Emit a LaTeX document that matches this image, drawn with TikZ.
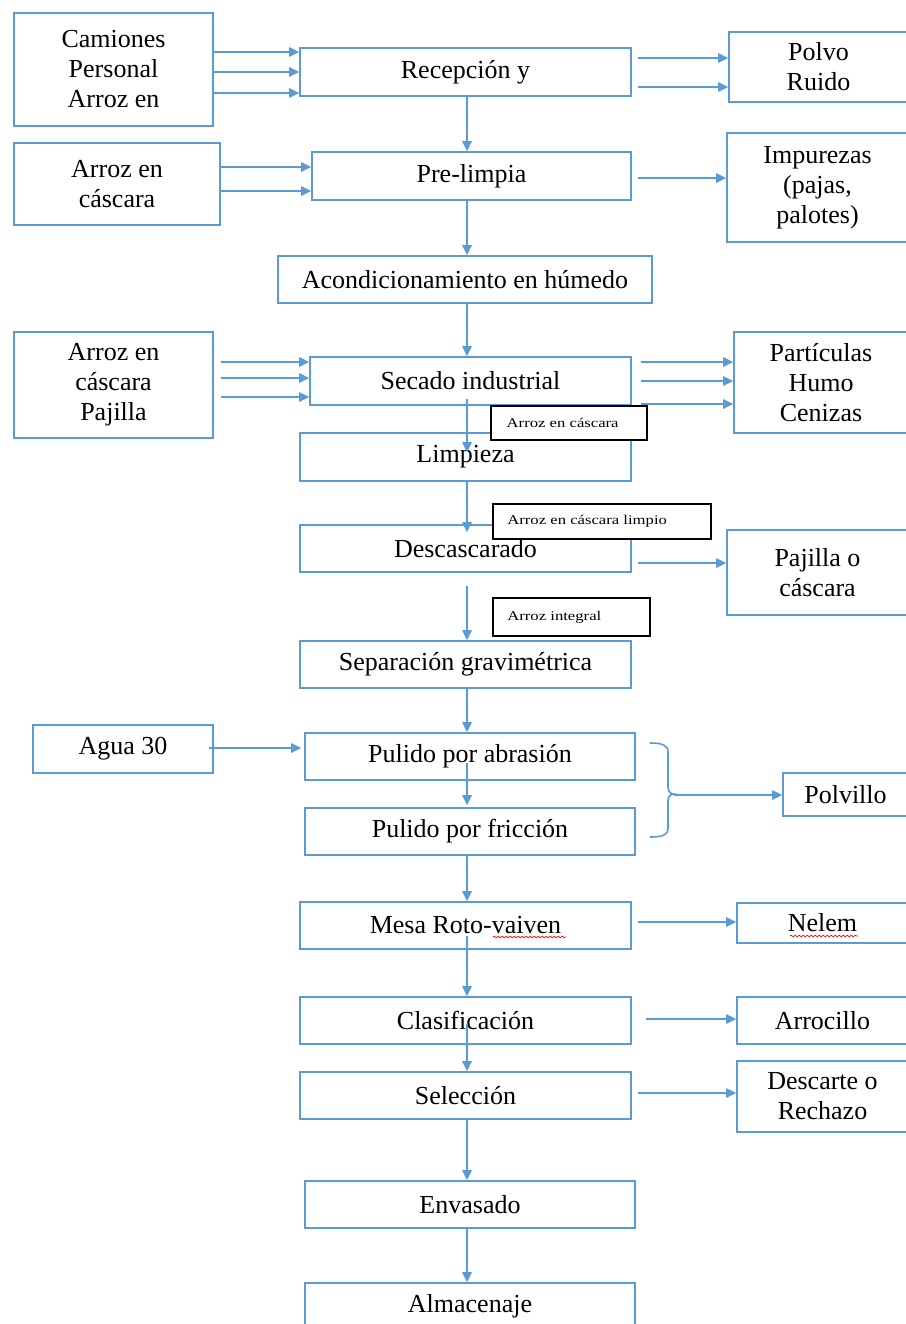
\documentclass[tikz,border=0pt]{standalone}
\usepackage{fontspec}
\setmainfont{Liberation Serif}
\usepackage{graphicx}
\usetikzlibrary{arrows.meta,calc,decorations.pathmorphing}
\definecolor{flowblue}{RGB}{91,155,213}
% \flowbox{name}{x1}{y1}{x2}{y2}{text}: a box spanning two corners
\newcommand\flowbox[6]{%
  \node[box, minimum width={(#4-#2)*0.75pt}, minimum height={(#5-#3)*0.75pt}]
    (#1) at ({(#2+#4)/2},{(#3+#5)/2}) {#6};}
\begin{document}
\begin{tikzpicture}[x=0.75pt,y=-0.75pt,
  box/.style={draw=flowblue, line width=1.2pt, inner sep=0pt, align=center,
    font=\fontsize{19.5}{22.5}\selectfont},
  tag/.style={draw=black, fill=white, line width=0.9pt, inner sep=0pt},
  tagtext/.style={anchor=west, inner sep=0pt, font=\fontsize{10}{12}\selectfont},
  flow/.style={draw=flowblue, line width=1.2pt, -{Triangle[length=7.5pt,width=7pt]}},
  spell/.style={draw=red, line width=0.5pt, decorate,
    decoration={snake, amplitude=0.6pt, segment length=3pt}}
]
\useasboundingbox (0,0) rectangle (906,1324);
\clip (0,0) rectangle (906,1324);

% main process column
\flowbox{recep}{300}{48}{631}{96}{Recepción y}
\flowbox{prel}{312}{152}{631}{200}{Pre-limpia}
\flowbox{acond}{278}{256}{652}{303}{Acondicionamiento en húmedo}
\flowbox{secado}{310}{357}{631}{405}{Secado industrial}
\flowbox{limp}{300}{433}{631}{481}{Limpieza}
\flowbox{desc}{300}{525}{631}{572}{Descascarado}
\flowbox{sep}{300}{641}{631}{688}{Separación gravimétrica}
\flowbox{pula}{305}{733}{635}{780}{Pulido por abrasión}
\flowbox{pulf}{305}{808}{635}{855}{Pulido por fricción}
\flowbox{mesa}{300}{902}{631}{949}{Mesa Roto-vaiven}
\flowbox{clas}{300}{997}{631}{1044}{Clasificación}
\flowbox{sel}{300}{1072}{631}{1119}{Selección}
\flowbox{env}{305}{1181}{635}{1228}{Envasado}
\flowbox{alm}{305}{1283}{635}{1330}{Almacenaje}

% inputs
\flowbox{cam}{14}{13}{213}{126}{Camiones\\Personal\\Arroz en}
\flowbox{arroz1}{14}{143}{220}{225}{Arroz en\\cáscara}
\flowbox{arroz2}{14}{332}{213}{438}{Arroz en\\cáscara\\Pajilla}
\flowbox{agua}{33}{725}{213}{773}{Agua 30}

% outputs
\flowbox{polvo}{729}{32}{908}{102}{Polvo\\Ruido}
\flowbox{imp}{727}{133}{908}{242}{Impurezas\\(pajas,\\palotes)}
\flowbox{part}{734}{332}{908}{433}{Partículas\\Humo\\Cenizas}
\flowbox{pajc}{727}{530}{908}{615}{Pajilla o\\cáscara}
\flowbox{polv}{783}{773}{908}{816}{Polvillo}
\flowbox{nelem}{737}{903}{908}{943}{Nelem}
\flowbox{arroc}{737}{997}{908}{1044}{Arrocillo}
\flowbox{desca}{737}{1061}{908}{1132}{Descarte o\\Rechazo}

% spell-check marks
\draw[spell] (493,937) -- (566,937);
\draw[spell] (790,936) -- (858,936);

% vertical flow
\coordinate (spine) at (467,0);
\draw[flow] (recep.south -| spine) -- (prel.north -| spine);
\draw[flow] (prel.south -| spine) -- (acond.north -| spine);
\draw[flow] (acond.south -| spine) -- (secado.north -| spine);
\draw[flow] ($(secado.south -| spine)+(0,-7)$) -- ($(limp.north -| spine)+(0,20)$);
\draw[flow] (limp.south -| spine) -- ($(desc.north -| spine)+(0,8)$);
\draw[flow] ($(desc.south -| spine)+(0,13)$) -- (sep.north -| spine);
\draw[flow] (sep.south -| spine) -- (pula.north -| spine);
\draw[flow] ($(pula.south -| spine)+(0,-18)$) -- ($(pulf.north -| spine)+(0,-2)$);
\draw[flow] (pulf.south -| spine) -- (mesa.north -| spine);
\draw[flow] ($(mesa.south -| spine)+(0,-14)$) -- (clas.north -| spine);
\draw[flow] ($(clas.south -| spine)+(0,-21)$) -- (sel.north -| spine);
\draw[flow] (sel.south -| spine) -- (env.north -| spine);
\draw[flow] (env.south -| spine) -- (alm.north -| spine);

% inputs into the process
\foreach \y in {52,72,93}
  \draw[flow] (cam.east |- 0,\y) -- (recep.west |- 0,\y);
\foreach \y in {167,191}
  \draw[flow] (arroz1.east |- 0,\y) -- (prel.west |- 0,\y);
\foreach \y in {362,378,397}
  \draw[flow] ($(arroz2.east |- 0,\y)+(7,0)$) -- (secado.west |- 0,\y);
\draw[flow] ($(agua.east |- 0,748)+(-5,0)$) -- ($(pula.west |- 0,748)+(-3,0)$);

% outputs from the process
\foreach \y in {58,87}
  \draw[flow] ($(recep.east |- 0,\y)+(6,0)$) -- (polvo.west |- 0,\y);
\draw[flow] ($(prel.east |- 0,178)+(6,0)$) -- (imp.west |- 0,178);
\foreach \y in {362,381,404}
  \draw[flow] ($(secado.east |- 0,\y)+(9,0)$) -- (part.west |- 0,\y);
\draw[flow] ($(desc.east |- 0,563)+(6,0)$) -- (pajc.west |- 0,563);
\draw[flow] ($(mesa.east |- 0,922)+(6,0)$) -- (nelem.west |- 0,922);
\draw[flow] ($(clas.east |- 0,1019)+(14,0)$) -- (arroc.west |- 0,1019);
\draw[flow] ($(sel.east |- 0,1093)+(6,0)$) -- (desca.west |- 0,1093);

% brace grouping both polishing steps
\draw[draw=flowblue, line width=1.2pt]
  (650,743) .. controls (662,743) and (668,745) .. (668,752) -- (668,787)
  .. controls (668,791) and (670,794) .. (674,794)
  .. controls (670,794) and (668,797) .. (668,801) -- (668,829)
  .. controls (668,835) and (662,837) .. (650,837);
\coordinate (btip) at (674,795);
\draw[flow] (btip) -- (polv.west |- btip);

% product tags
\node[tag, minimum width={156*0.75pt}, minimum height={34*0.75pt}] (t1) at (569,423) {};
\node[tagtext] at ([xshift=12pt]t1.west) {\scalebox{1.25}[1]{Arroz en cáscara}};
\node[tag, minimum width={218*0.75pt}, minimum height={35*0.75pt}] (t2) at (602,521.5) {};
\node[tagtext] at ([xshift=11pt]t2.west) {\scalebox{1.25}[1]{Arroz en cáscara limpio}};
\node[tag, minimum width={157*0.75pt}, minimum height={38*0.75pt}] (t3) at (571.5,617) {};
\node[tagtext] at ([xshift=11pt]t3.west) {\scalebox{1.25}[1]{Arroz integral}};
\end{tikzpicture}
\end{document}
